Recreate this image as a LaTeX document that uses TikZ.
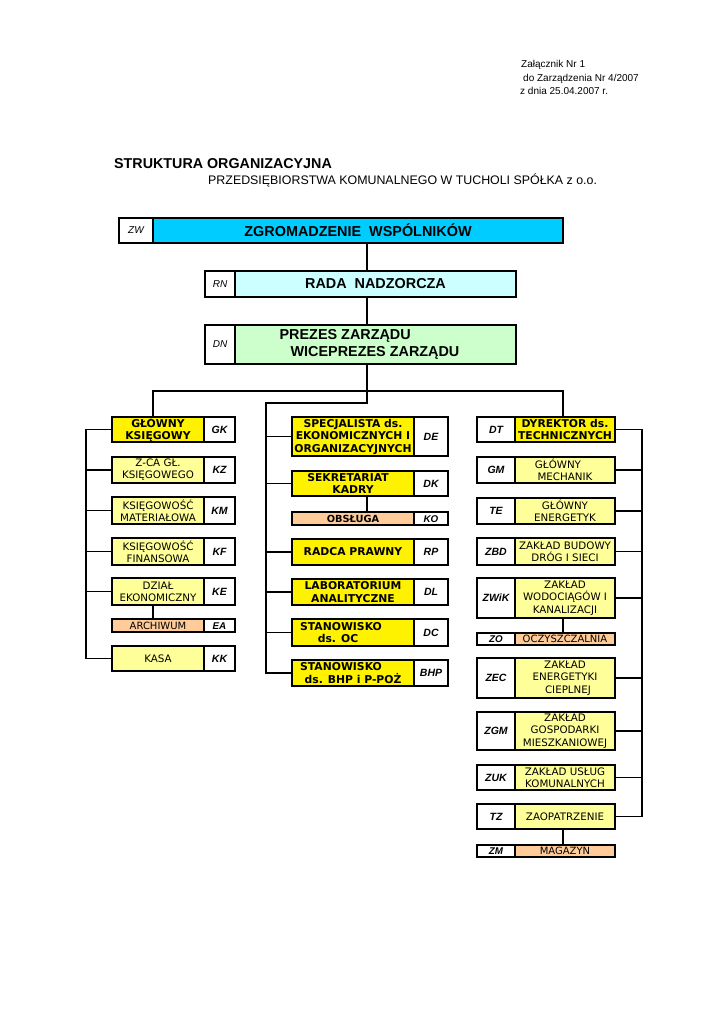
\documentclass[tikz,border=0pt]{standalone}
\usepackage{fontspec}
\setmainfont{Liberation Sans}
\newfontfamily\verd{DejaVu Sans}
\usepackage{tikz}
\definecolor{zwblue}{RGB}{0,204,255}
\definecolor{rnblue}{RGB}{204,255,255}
\definecolor{dngreen}{RGB}{204,255,204}
\definecolor{lyellow}{RGB}{255,255,153}
\definecolor{peach}{RGB}{255,204,153}
\tikzset{
    every node/.style={draw, line width=2.4pt, inner sep=0pt, align=center,
    	font=\verd\fontsize{10.3}{12.3}\selectfont}
}
\tikzset{
    boxh/.style={minimum height=#1pt},
    txt/.style={draw=none, anchor=base west, font=\fontsize{10}{12}\selectfont},
    code/.style={fill=white, font=\bfseries\itshape\fontsize{10.5}{12}\selectfont},
    thincode/.style={code, text height=7.6pt, text depth=0pt,
    	font=\bfseries\itshape\fontsize{9.8}{12}\selectfont},
    topcode/.style={fill=white, font=\itshape\fontsize{10}{12}\selectfont},
    top/.style={font=\bfseries\fontsize{14.4}{17}\selectfont},
    yl/.style={fill=yellow, font=\verd\bfseries\fontsize{10.8}{12.5}\selectfont},
    ly/.style={fill=lyellow},
    pc/.style={fill=peach, text height=7.6pt, text depth=0pt,
    	font=\verd\fontsize{10}{12}\selectfont},
    leftlbl/.style={minimum width=92pt},
    leftcode/.style={code, minimum width=31pt},
    midlbl/.style={minimum width=122pt},
    midcode/.style={code, minimum width=34pt},
    rightlbl/.style={minimum width=100pt},
    rightcode/.style={code, minimum width=38pt},
    link/.style={line width=1.5pt}
}
\pgfdeclarelayer{background}
\pgfsetlayers{background,main}
\begin{document}
\begin{tikzpicture}[x=1pt, y=-1pt]
	\useasboundingbox (0,0) rectangle (724,1024);
	% header
	\node (zal1) [txt] at (520,68) {Załącznik Nr 1};
	\node (zal2) [txt] at (522,81.5) {do Zarządzenia Nr 4/2007};
	\node (zal3) [txt] at (519,95) {z dnia 25.04.2007 r.};
	\node (title) [txt, font=\bfseries\fontsize{14.3}{16}\selectfont] at (113,169) {STRUKTURA ORGANIZACYJNA};
	\node (subtitle) [txt, font=\fontsize{12.4}{14}\selectfont] at (207,185) {PRZEDSIĘBIORSTWA KOMUNALNEGO W TUCHOLI SPÓŁKA z o.o.};
	
	% management
	\node (zwc) [topcode, minimum width=34pt, boxh=25] at (136,230.5) {ZW};
	\node (zw) [top, fill=zwblue, minimum width=410pt, boxh=25] at (358,230.5) {ZGROMADZENIE\ \ WSPÓLNIKÓW};
	\node (rnc) [topcode, minimum width=30pt, boxh=26] at (220,284) {RN};
	\node (rn) [top, fill=rnblue, minimum width=281pt, boxh=26] at (375.5,284) {RADA\ \ NADZORCZA};
	\node (dnc) [topcode, minimum width=30pt, boxh=39] at (220,344.5) {DN};
	\node (dn) [top, fill=dngreen, minimum width=281pt, boxh=39, align=left] at (375.5,344.5) {PREZES ZARZĄDU\\\hspace*{11pt}WICEPREZES ZARZĄDU\hspace*{12pt}};
	
	% left column
	\node (gkc) [leftcode, boxh=25] at (219.5,429.5) {GK};
	\node (gk) [leftlbl, yl, boxh=25] at (158,429.5) {GŁÓWNY\\KSIĘGOWY};
	\node (kzc) [leftcode, boxh=26] at (219.5,470) {KZ};
	\node (kz) [leftlbl, ly, boxh=26] at (158,470) {Z-CA GŁ.\\KSIĘGOWEGO};
	\node (kmc) [leftcode, boxh=27] at (219.5,510.5) {KM};
	\node (km) [leftlbl, ly, boxh=27] at (158,510.5) {KSIĘGOWOŚĆ\\MATERIAŁOWA};
	\node (kfc) [leftcode, boxh=27] at (219.5,551.5) {KF};
	\node (kf) [leftlbl, ly, boxh=27] at (158,551.5) {KSIĘGOWOŚĆ\\FINANSOWA};
	\node (kec) [leftcode, boxh=27] at (219.5,591.5) {KE};
	\node (ke) [leftlbl, ly, boxh=27] at (158,591.5) {DZIAŁ\\EKONOMICZNY};
	\node (eac) [leftcode, thincode, boxh=13.5] at (219.5,625.5) {EA};
	\node (ea) [leftlbl, pc, boxh=13.5] at (158,625.5) {ARCHIWUM};
	\node (kkc) [leftcode, boxh=25] at (219.5,658.5) {KK};
	\node (kk) [leftlbl, ly, boxh=25] at (158,658.5) {KASA};
	
	% middle column
	\node (dec) [midcode, boxh=39] at (431,436.5) {DE};
	\node (de) [midlbl, yl, boxh=39] at (353,436.5) {SPECJALISTA ds.\\EKONOMICZNYCH I\\ORGANIZACYJNYCH};
	\node (dkc) [midcode, boxh=25] at (431,483.5) {DK};
	\node (dk) [midlbl, yl, boxh=25] at (353,483.5) {SEKRETARIAT\hspace*{10pt}\\KADRY};
	\node (koc) [midcode, thincode, boxh=13.5] at (431,518.5) {KO};
	\node (ko) [midlbl, pc, boxh=13.5, font=\verd\bfseries\fontsize{9.8}{12}\selectfont] at (353,518.5) {OBSŁUGA};
	\node (rpc) [midcode, boxh=26] at (431,552) {RP};
	\node (rp) [midlbl, yl, boxh=26] at (353,552) {RADCA PRAWNY};
	\node (dlc) [midcode, boxh=26] at (431,592) {DL};
	\node (dl) [midlbl, yl, boxh=26] at (353,592) {LABORATORIUM\\ANALITYCZNE};
	\node (dcc) [midcode, boxh=27] at (431,632.5) {DC};
	\node (dc) [midlbl, yl, boxh=27] at (353,632.5) {STANOWISKO\hspace*{24pt}\\ds. OC\hspace*{30pt}};
	\node (bhpc) [midcode, boxh=26] at (431,673) {BHP};
	\node (bhp) [midlbl, yl, boxh=26] at (353,673) {STANOWISKO\hspace*{24pt}\\ds. BHP i P-POŻ};
	
	% right column
	\node (dtc) [rightcode, boxh=25] at (496,429.5) {DT};
	\node (dt) [rightlbl, yl, boxh=25] at (565,429.5) {DYREKTOR ds.\\TECHNICZNYCH};
	\node (gmc) [rightcode, boxh=26] at (496,470) {GM};
	\node (gm) [rightlbl, ly, boxh=26] at (565,470) {GŁÓWNY\hspace*{14pt}\\MECHANIK};
	\node (tec) [rightcode, boxh=26] at (496,511) {TE};
	\node (te) [rightlbl, ly, boxh=26] at (565,511) {GŁÓWNY\\ENERGETYK};
	\node (zbdc) [rightcode, boxh=27] at (496,551.5) {ZBD};
	\node (zbd) [rightlbl, ly, boxh=27] at (565,551.5) {ZAKŁAD BUDOWY\\DRÓG I SIECI};
	\node (zwikc) [rightcode, boxh=40] at (496,598) {ZWiK};
	\node (zwik) [rightlbl, ly, boxh=40] at (565,598) {ZAKŁAD\\WODOCIĄGÓW I\\KANALIZACJI};
	\node (zoc) [rightcode, thincode, boxh=11.5] at (496,639) {ZO};
	\node (zo) [rightlbl, pc, boxh=11.5] at (565,639) {OCZYSZCZALNIA};
	\node (zecc) [rightcode, boxh=40] at (496,678) {ZEC};
	\node (zec) [rightlbl, ly, boxh=40] at (565,678) {ZAKŁAD\\ENERGETYKI\\\hspace*{6pt}CIEPLNEJ};
	\node (zgmc) [rightcode, boxh=38] at (496,731) {ZGM};
	\node (zgm) [rightlbl, ly, boxh=38] at (565,731) {ZAKŁAD\\GOSPODARKI\\MIESZKANIOWEJ};
	\node (zukc) [rightcode, boxh=25] at (496,777.5) {ZUK};
	\node (zuk) [rightlbl, ly, boxh=25] at (565,777.5) {ZAKŁAD USŁUG\\KOMUNALNYCH};
	\node (tzc) [rightcode, boxh=25] at (496,816.5) {TZ};
	\node (tz) [rightlbl, ly, boxh=25] at (565,816.5) {ZAOPATRZENIE};
	\node (zmc) [rightcode, thincode, boxh=11.5] at (496,851) {ZM};
	\node (zm) [rightlbl, pc, boxh=11.5] at (565,851) {MAGAZYN};
	
	\coordinate (axis) at (367,391);
	\coordinate (lcol) at (153,391);
	\coordinate (rcol) at (563,391);
	\coordinate (mid) at (367,403);
	\coordinate (mbus) at (266,403);
	\coordinate (lbus) at (86,0);
	\coordinate (rbus) at (642,0);
	
	\begin{pgfonlayer}{background}
	\draw [link] (axis |- zw.south) -- (axis |- rn.north);
	\draw [link] (axis |- rn.south) -- (axis |- dn.north);
	\draw [link] (axis |- dn.south) -- (mid) -- (mbus) |- (bhp.west);
	\draw [link] (lcol |- gk.north) -- (lcol) -- (rcol) -- (rcol |- dt.north);
	\draw [link] (gk.west) -- (lbus |- gk.west) -- (lbus |- kk.west) -- (kk.west);
	\draw [link] (dt.east) -- (rbus |- dt.east) -- (rbus |- tz.east) -- (tz.east);
	\foreach \n in {kz,km,kf,ke}
		\draw [link] (\n.west) -- (lbus |- \n.west);
	\foreach \n in {de,dk,rp,dl,dc}
		\draw [link] (\n.west) -- (mbus |- \n.west);
	\foreach \n in {gm,te,zbd,zwik,zec,zgm,zuk}
		\draw [link] (\n.east) -- (rbus |- \n.east);
	\draw [link] (lcol |- ke.south) -- (lcol |- ea.north);
	\draw [link] (axis |- dk.south) -- (axis |- ko.north);
	\draw [link] (rcol |- zwik.south) -- (rcol |- zo.north);
	\draw [link] (rcol |- tz.south) -- (rcol |- zm.north);
	\end{pgfonlayer}
\end{tikzpicture}
\end{document}
